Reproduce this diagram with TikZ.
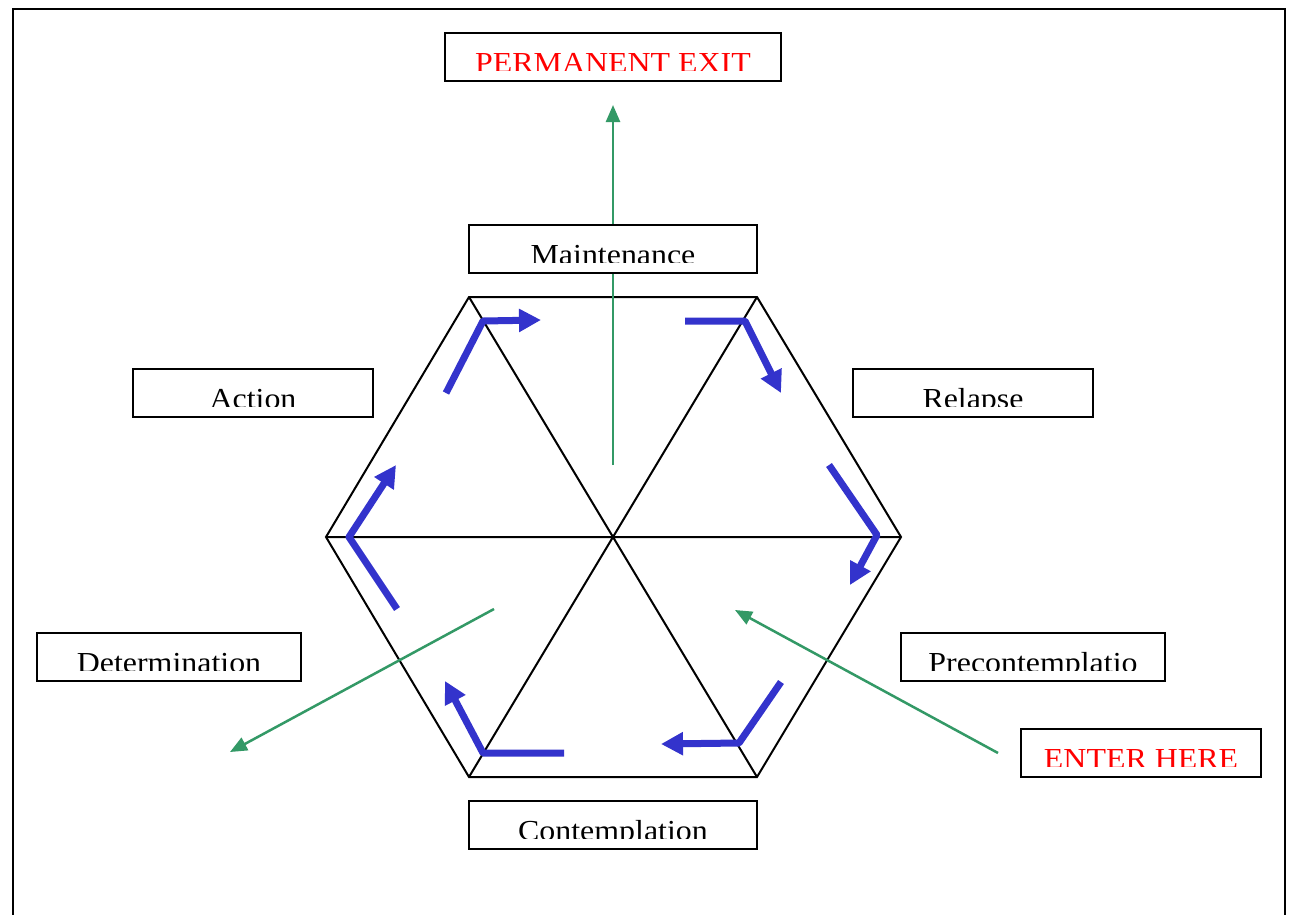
\documentclass[tikz,border=0pt]{standalone}
\usepackage{fontspec}
\setmainfont{Liberation Serif}
\usetikzlibrary{arrows.meta}
\definecolor{bluearr}{RGB}{51,51,204}
\definecolor{greenarr}{RGB}{51,153,102}
\newcommand{\stagelabel}[6]{% x1, y1, x2, baseline, colour, text
  \begin{scope}
    \clip (#1,#2) rectangle (#3,#4-1.5);
    \node[lbl, text=#5] at ({(#1+#3)/2},#4) {\scalebox{1.1}[1]{#6}};
  \end{scope}}
\begin{document}
\begin{tikzpicture}[x=1pt,y=-1pt,
  hexline/.style={line width=2pt, black},
  cyc/.style={line width=7pt, bluearr, line join=round, -{Triangle[length=22pt,width=22pt]}},
  flow/.style={line width=2.5pt, greenarr, -{Triangle[length=17pt,width=14pt]}},
  stagebox/.style={draw, line width=2pt, fill=white, inner sep=0pt, minimum height=48pt},
  lbl/.style={font=\fontsize{29}{29}\selectfont, inner sep=0pt, anchor=base}]
\useasboundingbox (0,0) rectangle (1293,914);
\fill[white] (0,0) rectangle (1293,914);
% outer frame
\draw[line width=2pt] (13,940) -- (13,9) -- (1285,9) -- (1285,940);

% hexagon
\coordinate (C) at (613,537);
\coordinate (L) at (326,537);
\coordinate (R) at (901,537);
\coordinate (TL) at (469,297);
\coordinate (TR) at (757,297);
\coordinate (BL) at (469,777);
\coordinate (BR) at (757,777);
\draw[hexline, line join=miter] (L) -- (TL) -- (TR) -- (R) -- (BR) -- (BL) -- cycle;
\draw[hexline] (L) -- (R) (TL) -- (BR) (TR) -- (BL);

% green flows
\coordinate (exitstart) at (613,465);
\coordinate (exitend) at (613,105);
\coordinate (enterstart) at (998,753);
\coordinate (enterend) at (735,610);
\coordinate (relstart) at (494,609);
\coordinate (relend) at (230,752);
\draw[flow] (exitstart) -- (exitend);
\draw[flow] (enterstart) -- (enterend);
\draw[flow] (relstart) -- (relend);

% boxes
\node[stagebox, minimum width=336pt] (pexit) at (613,57) {};
\stagelabel{445}{33}{781}{72}{red}{PERMANENT EXIT}
\node[stagebox, minimum width=288pt] (maint) at (613,249) {};
\stagelabel{469}{225}{757}{264}{black}{Maintenance}
\node[stagebox, minimum width=240pt] (action) at (253,393) {};
\stagelabel{133}{369}{373}{408}{black}{Action}
\node[stagebox, minimum width=240pt] (relapse) at (973,393) {};
\stagelabel{853}{369}{1093}{408}{black}{Relapse}
\node[stagebox, minimum width=264pt] (determ) at (169,657) {};
\stagelabel{37}{633}{301}{672}{black}{Determination}
\node[stagebox, minimum width=264pt] (precon) at (1033,657) {};
\stagelabel{901}{633}{1165}{672}{black}{Precontemplatio}
\node[stagebox, minimum width=240pt] (enter) at (1141,753) {};
\stagelabel{1021}{729}{1261}{768}{red}{ENTER HERE}
\node[stagebox, minimum width=288pt] (contem) at (613,825) {};
\stagelabel{469}{801}{757}{840}{black}{Contemplation}

% blue cycle arrows
\coordinate (a1s) at (446,393); \coordinate (a1m) at (483,321); \coordinate (a1e) at (541,320);
\coordinate (a2s) at (685,321); \coordinate (a2m) at (745,321); \coordinate (a2e) at (781,393);
\coordinate (a3s) at (829,465); \coordinate (a3m) at (877,535); \coordinate (a3e) at (850,585);
\coordinate (a4s) at (781,682); \coordinate (a4m) at (739,743); \coordinate (a4e) at (661,744);
\coordinate (a5s) at (564,753); \coordinate (a5m) at (483,753); \coordinate (a5e) at (445,681);
\coordinate (a6s) at (397,609); \coordinate (a6m) at (349,537); \coordinate (a6e) at (396,465);
\draw[cyc] (a1s) -- (a1m) -- (a1e);
\draw[cyc] (a2s) -- (a2m) -- (a2e);
\draw[cyc] (a3s) -- (a3m) -- (a3e);
\draw[cyc] (a4s) -- (a4m) -- (a4e);
\draw[cyc] (a5s) -- (a5m) -- (a5e);
\draw[cyc] (a6s) -- (a6m) -- (a6e);
\end{tikzpicture}
\end{document}
